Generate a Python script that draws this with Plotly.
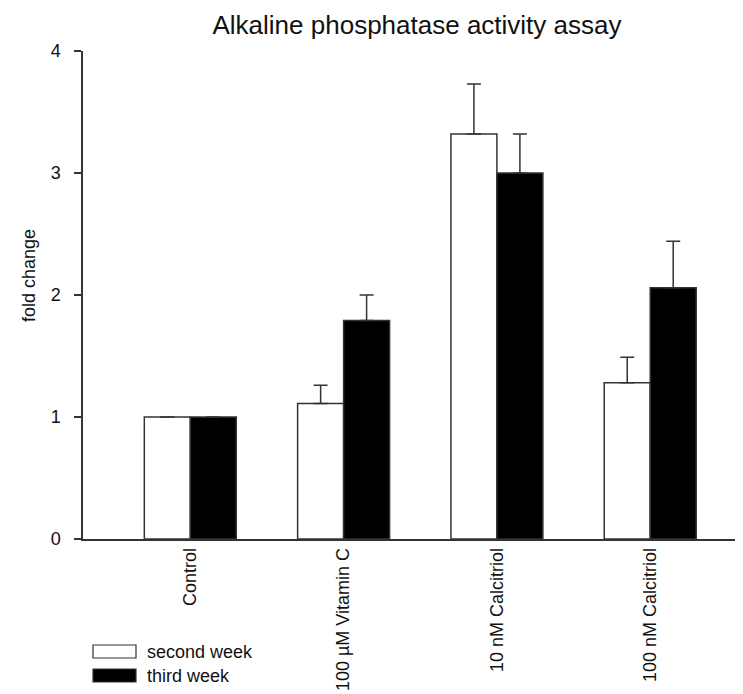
import plotly.graph_objects as go

categories = ["Control", "100 \u00b5M Vitamin C", "10 nM Calcitriol", "100 nM Calcitriol"]
second_week = [1.0, 1.11, 3.32, 1.28]
second_week_err = [0.0, 0.15, 0.41, 0.21]
third_week = [1.0, 1.79, 3.0, 2.06]
third_week_err = [0.0, 0.21, 0.32, 0.38]
series_names = ["second week", "third week"]
y_ticks = [0, 1, 2, 3, 4]

W, H = 743, 694
ML, MR, MT, MB = 75, 0, 43, 163
PW = W - ML - MR
PH = H - MT - MB
FONT = "Liberation Sans, Arial, sans-serif"
EDGE = "#333333"
TXT = "#111111"

fig = go.Figure()
fig.add_trace(go.Bar(
    x=categories, y=second_week, name=series_names[0],
    marker=dict(color="white", line=dict(color=EDGE, width=1.5)),
    error_y=dict(type="data", symmetric=False, array=second_week_err,
                 arrayminus=[0] * len(second_week_err),
                 color=EDGE, thickness=1.5, width=7),
    showlegend=False,
))
fig.add_trace(go.Bar(
    x=categories, y=third_week, name=series_names[1],
    marker=dict(color="black", line=dict(color=EDGE, width=1.5)),
    error_y=dict(type="data", symmetric=False, array=third_week_err,
                 arrayminus=[0] * len(third_week_err),
                 color=EDGE, thickness=1.5, width=7),
    showlegend=False,
))

def px_x(p):
    return (p - ML) / PW

def px_y(p):
    return (H - MB - p) / PH

shapes = []
annotations = []
legend_rows = [(series_names[0], "white", 637, 650), (series_names[1], "black", 661, 674)]
for name, fill, y0, y1 in legend_rows:
    shapes.append(dict(type="rect", xref="paper", yref="paper",
                       x0=px_x(85), x1=px_x(128), y0=px_y(y1), y1=px_y(y0),
                       fillcolor=fill, line=dict(color=EDGE, width=1.2)))
    annotations.append(dict(text=name, xref="paper", yref="paper",
                            x=px_x(137), y=px_y((y0 + y1) / 2),
                            xanchor="left", yanchor="middle", showarrow=False,
                            font=dict(size=18, color=TXT, family=FONT)))

annotations.append(dict(text="fold change", xref="paper", yref="paper",
                        x=px_x(21), y=px_y(268), textangle=-90,
                        xanchor="center", yanchor="middle", showarrow=False,
                        font=dict(size=18, color=TXT, family=FONT)))

fig.update_layout(
    width=W, height=H,
    margin=dict(l=ML, r=MR, t=MT, b=MB, pad=0),
    paper_bgcolor="white", plot_bgcolor="white",
    barmode="group", bargap=0.4, bargroupgap=0,
    font=dict(family=FONT, color=TXT),
    title=dict(text="Alkaline phosphatase activity assay",
               font=dict(size=26, family=FONT, color=TXT),
               x=0.5, xref="paper", xanchor="center",
               y=1 - 17 / H, yref="container", yanchor="middle"),
    xaxis=dict(range=[-0.70, -0.70 + PW / 153.3], showline=True, linecolor=EDGE,
               linewidth=1.5, ticks="", tickangle=-90, showgrid=False,
               zeroline=False, tickfont=dict(size=18, family=FONT, color=TXT)),
    yaxis=dict(range=[0, 4], tickvals=y_ticks, showline=True, linecolor=EDGE,
               linewidth=1.5, ticks="outside", ticklen=7, tickwidth=1.5,
               tickcolor=EDGE, showgrid=False, zeroline=False,
               ticklabelstandoff=10,
               tickfont=dict(size=18, family=FONT, color=TXT)),
    shapes=shapes, annotations=annotations,
)

fig.write_html("out.html")
